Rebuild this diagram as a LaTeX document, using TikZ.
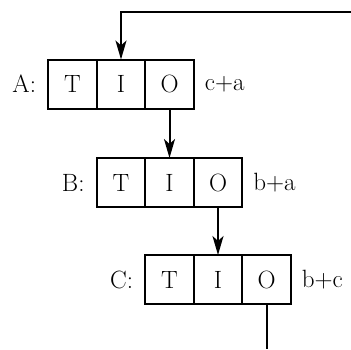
\documentclass[tikz,border=0pt]{standalone}
\usepackage{fontspec}
\usepackage{tikz}
\usetikzlibrary{arrows.meta,positioning}

\begin{document}
\begin{tikzpicture}[
  x=1pt, y=-1pt,
  font=\fontsize{25}{29}\selectfont,
  >={Stealth[length=19pt, width=11pt, inset=5pt]},
  cell/.style={rectangle, draw, line width=2pt, minimum width=48.5pt,
               minimum height=49pt, inner sep=0pt, outer sep=0pt},
  regname/.style={inner sep=2pt, left=10pt},
  regval/.style={inner sep=2pt, right=9pt},
  link/.style={->, line width=2pt},
  wire/.style={line width=2pt},
]
\useasboundingbox (0,0) rectangle (351,349);

% register A
\node[cell] (aT) at (72.5,84) {T};
\node[cell, right=0pt of aT] (aI) {I};
\node[cell, right=0pt of aI] (aO) {O};
\node[regname, at=(aT.west)] (aname) {A:};
\node[regval, at=(aO.east)] (aval) {c+a};

% register B
\node[cell] (bT) at (121,182.5) {T};
\node[cell, right=0pt of bT] (bI) {I};
\node[cell, right=0pt of bI] (bO) {O};
\node[regname, at=(bT.west)] (bname) {B:};
\node[regval, at=(bO.east)] (bval) {b+a};

% register C
\node[cell] (cT) at (169.5,279.5) {T};
\node[cell, right=0pt of cT] (cI) {I};
\node[cell, right=0pt of cI] (cO) {O};
\node[regname, at=(cT.west)] (cname) {C:};
\node[regval, at=(cO.east)] (cval) {b+c};

\coordinate (feedin) at (351,12);
\coordinate (feedout) at (cO.south |- 0,349);

\draw[link] (feedin) -| (aI.north);
\draw[link] (aO.south) -- (bI.north);
\draw[link] (bO.south) -- (cI.north);
\draw[wire] (cO.south) -- (feedout);

\end{tikzpicture}
\end{document}
